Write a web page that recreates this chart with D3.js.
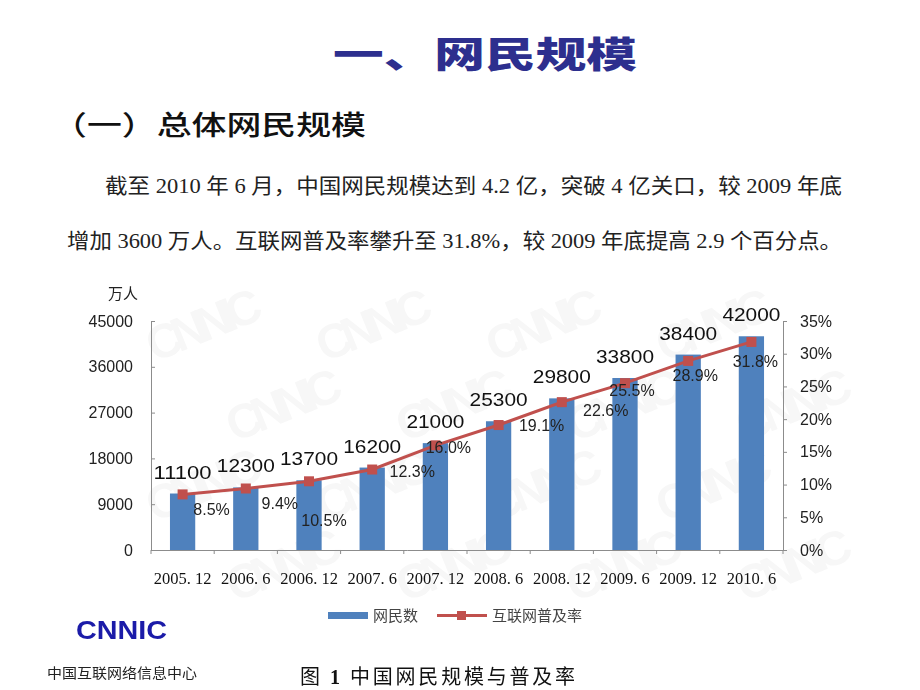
<!DOCTYPE html>
<html>
<head>
<meta charset="utf-8">
<script src="https://cdn.jsdelivr.net/npm/d3@7"></script>
<style>
  body { margin: 0; background: #fff; }
  svg { display: block; }
</style>
</head>
<body>
<svg id="chart"></svg>
<script>
// data
var periods = ["2005. 12", "2006. 6", "2006. 12", "2007. 6", "2007. 12", "2008. 6", "2008. 12", "2009. 6", "2009. 12", "2010. 6"];
var netizens = [11100, 12300, 13700, 16200, 21000, 25300, 29800, 33800, 38400, 42000];
var penetration = [8.5, 9.4, 10.5, 12.3, 16.0, 19.1, 22.6, 25.5, 28.9, 31.8];
var leftTicks = [0, 9000, 18000, 27000, 36000, 45000];
var rightTicks = [0, 5, 10, 15, 20, 25, 30, 35];

// where each percent label sits relative to its point (as in the slide)
var pctOffset = [[29, 15], [34, 15], [15, 39], [40, 1], [13, 2], [43, 0], [44, 8], [7, 7], [7, 14], [4, 19]];

var width = 920, height = 690;
var svg = d3.select("#chart").attr("width", width).attr("height", height);

var blue = "#4f81bd", red = "#c0504d", axisGrey = "#8c8c8c";

// faint CNNIC watermarks, kept inside the chart area
var wm = svg.append("g").attr("fill", "#000").attr("opacity", 0.035)
    .attr("font-family", "Liberation Sans").attr("font-weight", "bold").attr("font-size", 48);
for (var r = 0; r < 4; r++) {
  for (var c = 0; c < 4; c++) {
    var wx = 210 + c * 170 + (r % 2) * 80, wy = 340 + r * 80;
    if (wx > 820) continue;
    wm.append("text").attr("x", wx).attr("y", wy)
      .attr("transform", "rotate(-22," + wx + "," + wy + ")")
      .attr("text-anchor", "middle").attr("textLength", 120).text("CNNIC");
  }
}

// headings
svg.append("text").attr("x", 333).attr("y", 68)
    .attr("textLength", 304).attr("lengthAdjust", "spacingAndGlyphs")
    .attr("font-family", "Noto Sans CJK SC").attr("font-weight", 900).attr("font-size", 36)
    .attr("fill", "#2d2f8e").text("一、网民规模");

svg.append("text").attr("x", 52).attr("y", 135)
    .attr("textLength", 314).attr("lengthAdjust", "spacingAndGlyphs")
    .attr("font-family", "Noto Sans CJK SC").attr("font-weight", 500).attr("font-size", 27)
    .attr("fill", "#111").text("（一）总体网民规模");

svg.append("text").attr("x", 105).attr("y", 193)
    .attr("textLength", 737).attr("lengthAdjust", "spacingAndGlyphs")
    .attr("font-family", "Liberation Serif, Noto Sans CJK SC").attr("font-size", 21)
    .attr("fill", "#222").text("截至 2010 年 6 月，中国网民规模达到 4.2 亿，突破 4 亿关口，较 2009 年底");

svg.append("text").attr("x", 67).attr("y", 248)
    .attr("textLength", 775).attr("lengthAdjust", "spacingAndGlyphs")
    .attr("font-family", "Liberation Serif, Noto Sans CJK SC").attr("font-size", 21)
    .attr("fill", "#222").text("增加 3600 万人。互联网普及率攀升至 31.8%，较 2009 年底提高 2.9 个百分点。");

// scales
var x = d3.scaleBand().domain(periods).range([151, 783]).paddingInner(0.6).paddingOuter(0.3);
var y = d3.scaleLinear().domain([0, 45000]).range([550, 321]);
var y2 = d3.scaleLinear().domain([0, 35]).range([550, 321]);

// axes
var leftAxis = svg.append("g").attr("transform", "translate(151,0)")
    .call(d3.axisLeft(y).tickValues(leftTicks).tickSize(-4).tickPadding(18).tickFormat(d3.format("d")));
var rightAxis = svg.append("g").attr("transform", "translate(783,0)")
    .call(d3.axisRight(y2).tickValues(rightTicks).tickSize(4).tickPadding(13)
      .tickFormat(function(d) { return d + "%"; }));
var bottomAxis = svg.append("g").attr("transform", "translate(0,550)")
    .call(d3.axisBottom(x).tickSize(0).tickPadding(22));

[leftAxis, rightAxis, bottomAxis].forEach(function(a) {
  a.select(".domain").attr("stroke", axisGrey);
  a.selectAll(".tick line").attr("stroke", axisGrey);
});
leftAxis.selectAll("text").attr("font-family", "Liberation Sans").attr("font-size", 16).attr("fill", "#222");
rightAxis.selectAll("text").attr("font-family", "Liberation Sans").attr("font-size", 16).attr("fill", "#222");
bottomAxis.selectAll("text").attr("font-family", "Liberation Serif").attr("font-size", 16.5).attr("fill", "#111");

// small ticks between categories on the x axis
svg.append("g").selectAll("line")
    .data(d3.range(periods.length + 1))
    .enter()
    .append("line")
    .attr("x1", function(i) { return 151 + i * x.step(); })
    .attr("x2", function(i) { return 151 + i * x.step(); })
    .attr("y1", 550).attr("y2", 554)
    .attr("stroke", axisGrey);

svg.append("text").attr("x", 108).attr("y", 299)
    .attr("font-family", "Noto Sans CJK SC").attr("font-size", 15).attr("fill", "#222")
    .text("万人");

// bars
svg.append("g").selectAll("rect")
    .data(netizens)
    .enter()
    .append("rect")
    .attr("x", function(d, i) { return x(periods[i]); })
    .attr("y", function(d) { return y(d); })
    .attr("width", x.bandwidth())
    .attr("height", function(d) { return 550 - y(d); })
    .attr("fill", blue);

svg.append("g").selectAll("text")
    .data(netizens)
    .enter()
    .append("text")
    .attr("x", function(d, i) { return x(periods[i]) + x.bandwidth() / 2; })
    .attr("y", function(d) { return y(d) - 15; })
    .attr("text-anchor", "middle")
    .attr("font-family", "Liberation Sans").attr("font-size", 19)
    .attr("textLength", 58).attr("lengthAdjust", "spacingAndGlyphs")
    .attr("fill", "#111")
    .text(function(d) { return d; });

// penetration line
var cx = function(d, i) { return x(periods[i]) + x.bandwidth() / 2; };
var line = d3.line().x(cx).y(function(d) { return y2(d); });

svg.append("path").datum(penetration)
    .attr("d", line)
    .attr("fill", "none")
    .attr("stroke", red)
    .attr("stroke-width", 3);

svg.append("g").selectAll("rect")
    .data(penetration)
    .enter()
    .append("rect")
    .attr("x", function(d, i) { return cx(d, i) - 5; })
    .attr("y", function(d) { return y2(d) - 5; })
    .attr("width", 10).attr("height", 10)
    .attr("fill", red);

svg.append("g").selectAll("text")
    .data(penetration)
    .enter()
    .append("text")
    .attr("x", function(d, i) { return cx(d, i) + pctOffset[i][0]; })
    .attr("y", function(d, i) { return y2(d) + pctOffset[i][1] + 6; })
    .attr("text-anchor", "middle")
    .attr("font-family", "Liberation Sans").attr("font-size", 16)
    .attr("fill", "#222")
    .text(function(d) { return d.toFixed(1) + "%"; });

// legend
var legend = svg.append("g").attr("font-family", "Liberation Serif, Noto Sans CJK SC")
    .attr("font-size", 15).attr("fill", "#444");
legend.append("rect").attr("x", 328).attr("y", 612).attr("width", 40).attr("height", 7).attr("fill", blue);
legend.append("text").attr("x", 373).attr("y", 621).text("网民数");
legend.append("line").attr("x1", 437).attr("x2", 487).attr("y1", 615.5).attr("y2", 615.5)
    .attr("stroke", red).attr("stroke-width", 3);
legend.append("rect").attr("x", 457).attr("y", 611).attr("width", 9).attr("height", 9).attr("fill", red);
legend.append("text").attr("x", 492).attr("y", 621).text("互联网普及率");

// logo and footer
svg.append("text").attr("x", 76).attr("y", 639)
    .attr("textLength", 91).attr("lengthAdjust", "spacingAndGlyphs")
    .attr("font-family", "Liberation Sans").attr("font-weight", "bold").attr("font-size", 25)
    .attr("fill", "#1b1ba8").text("CNNIC");

svg.append("text").attr("x", 47).attr("y", 678)
    .attr("textLength", 150).attr("lengthAdjust", "spacingAndGlyphs")
    .attr("font-family", "Noto Sans CJK SC").attr("font-size", 14).attr("fill", "#222")
    .text("中国互联网络信息中心");

var cap = svg.append("text").attr("x", 300).attr("y", 684)
    .attr("textLength", 275).attr("lengthAdjust", "spacing")
    .attr("font-family", "Noto Sans CJK SC").attr("font-size", 20).attr("fill", "#111");
cap.append("tspan").text("图 ");
cap.append("tspan").attr("font-family", "Liberation Serif").attr("font-weight", "bold").text("1");
cap.append("tspan").text(" 中国网民规模与普及率");
</script>
</body>
</html>
